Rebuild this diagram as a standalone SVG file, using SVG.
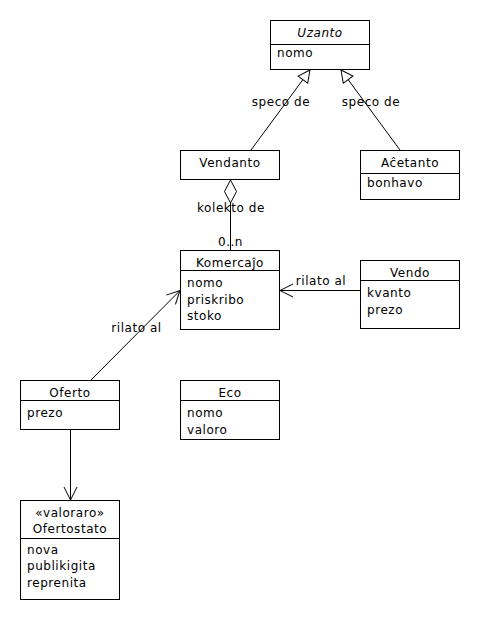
<svg xmlns="http://www.w3.org/2000/svg" width="480" height="620" viewBox="0 0 480 620">
<style>
text{font-family:"DejaVu Sans","Liberation Sans",sans-serif;font-size:12px;letter-spacing:0.55px;fill:#000}
.t{text-anchor:middle}
.i{font-style:italic}
.box{fill:#fff;stroke:#000;stroke-width:1}
.div{stroke:#000;stroke-width:1}
.ln{stroke:#000;stroke-width:1;fill:none}
</style>
<defs>
<marker id="tri" markerUnits="userSpaceOnUse" markerWidth="16" markerHeight="16" refX="13" refY="8" orient="auto" viewBox="0 0 16 16">
<path d="M1,2 L13,8 L1,14 Z" fill="#fff" stroke="#000" stroke-width="1"/>
</marker>
<marker id="open" markerUnits="userSpaceOnUse" markerWidth="16" markerHeight="16" refX="14" refY="8" orient="auto" viewBox="0 0 16 16">
<path d="M1,1.5 L14,8 L1,14.5" fill="none" stroke="#000" stroke-width="1"/>
</marker>
<marker id="dia" markerUnits="userSpaceOnUse" markerWidth="26" markerHeight="16" refX="1" refY="8" orient="auto" viewBox="0 0 26 16">
<path d="M1,8 L12.5,2 L24,8 L12.5,14 Z" fill="#fff" stroke="#000" stroke-width="1"/>
</marker>
</defs>
<g id="connectors">
<line class="ln" x1="251" y1="150" x2="310" y2="70" marker-end="url(#tri)"/>
<line class="ln" x1="400" y1="150" x2="341" y2="70" marker-end="url(#tri)"/>
<line class="ln" x1="230.5" y1="180" x2="230.5" y2="250" marker-start="url(#dia)"/>
<line class="ln" x1="360" y1="290.5" x2="280" y2="290.5" marker-end="url(#open)"/>
<line class="ln" x1="91" y1="380" x2="180" y2="290.5" marker-end="url(#open)"/>
<line class="ln" x1="70.5" y1="430" x2="70.5" y2="500" marker-end="url(#open)"/>
<text class="t" x="281" y="106">speco de</text>
<text class="t" x="371" y="106">speco de</text>
<text class="t" x="231" y="212">kolekto de</text>
<text class="t" x="230.5" y="246">0..n</text>
<text class="t" x="321" y="285">rilato al</text>
<text class="t" x="136.5" y="332">rilato al</text>
</g>
<g id="Uzanto">
<rect class="box" x="270.5" y="20.5" width="99" height="49"/>
<line class="div" x1="270.5" y1="44.5" x2="369.5" y2="44.5"/>
<text class="t i" x="320" y="36.5">Uzanto</text>
<text x="277" y="57">nomo</text>
</g>
<g id="Vendanto">
<rect class="box" x="180.5" y="150.5" width="99" height="29"/>
<text class="t" x="230" y="167">Vendanto</text>
</g>
<g id="Acetanto">
<rect class="box" x="360.5" y="150.5" width="99" height="49"/>
<line class="div" x1="360.5" y1="173.5" x2="459.5" y2="173.5"/>
<text class="t" x="410" y="167">Aĉetanto</text>
<text x="367" y="187">bonhavo</text>
</g>
<g id="Komercajo">
<rect class="box" x="180.5" y="250.5" width="99" height="79"/>
<line class="div" x1="180.5" y1="270.5" x2="279.5" y2="270.5"/>
<text class="t" x="230" y="266.5">Komercaĵo</text>
<text x="187" y="287">nomo</text>
<text x="187" y="303.5">priskribo</text>
<text x="187" y="320">stoko</text>
</g>
<g id="Vendo">
<rect class="box" x="360.5" y="260.5" width="99" height="68"/>
<line class="div" x1="360.5" y1="280.5" x2="459.5" y2="280.5"/>
<text class="t" x="410" y="276.5">Vendo</text>
<text x="367" y="297">kvanto</text>
<text x="367" y="313.5">prezo</text>
</g>
<g id="Oferto">
<rect class="box" x="20.5" y="380.5" width="99" height="49"/>
<line class="div" x1="20.5" y1="400.5" x2="119.5" y2="400.5"/>
<text class="t" x="70" y="396.5">Oferto</text>
<text x="27" y="417">prezo</text>
</g>
<g id="Eco">
<rect class="box" x="180.5" y="380.5" width="99" height="59"/>
<line class="div" x1="180.5" y1="400.5" x2="279.5" y2="400.5"/>
<text class="t" x="230" y="396.5">Eco</text>
<text x="187" y="417">nomo</text>
<text x="187" y="433.5">valoro</text>
</g>
<g id="Ofertostato">
<rect class="box" x="20.5" y="500.5" width="99" height="99"/>
<line class="div" x1="20.5" y1="538.5" x2="119.5" y2="538.5"/>
<text class="t" x="70" y="516.5">«valoraro»</text>
<text class="t" x="70" y="533">Ofertostato</text>
<text x="27" y="553.5">nova</text>
<text x="27" y="570">publikigita</text>
<text x="27" y="586.5">reprenita</text>
</g>
</svg>
